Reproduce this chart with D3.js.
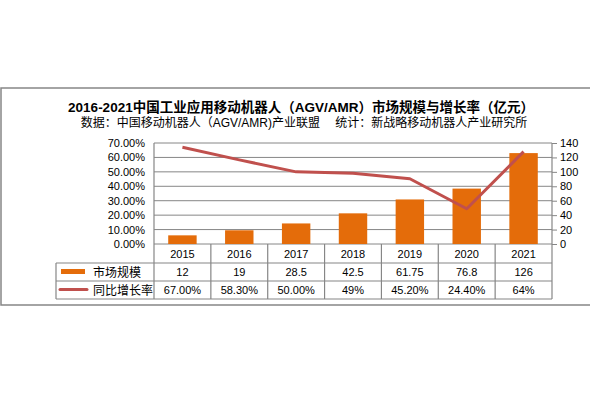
<!DOCTYPE html>
<html>
<head>
<meta charset="utf-8">
<script src="https://cdn.jsdelivr.net/npm/d3@7"></script>
<style>
  body { margin: 0; background: #fff; }
  text { font-family: Tahoma, "Liberation Sans", "Noto Sans CJK SC", sans-serif; fill: #000; }
</style>
</head>
<body>
<script>
var width = 590;
var height = 395;

// data
var years = ["2015", "2016", "2017", "2018", "2019", "2020", "2021"];
var marketSize = [12, 19, 28.5, 42.5, 61.75, 76.8, 126];
var growthRate = [67.0, 58.3, 50.0, 49, 45.2, 24.4, 64];
var sizeLabels = ["12", "19", "28.5", "42.5", "61.75", "76.8", "126"];
var rateLabels = ["67.00%", "58.30%", "50.00%", "49%", "45.20%", "24.40%", "64%"];
var leftTicks = [0, 10, 20, 30, 40, 50, 60, 70];
var rightTicks = [0, 20, 40, 60, 80, 100, 120, 140];

var title = "2016-2021中国工业应用移动机器人（AGV/AMR）市场规模与增长率（亿元）";
var subtitle = "数据：中国移动机器人（AGV/AMR)产业联盟\u3000 统计：新战略移动机器人产业研究所";

var plot = {left: 154, right: 552, top: 143, bottom: 244};
var tableLeft = 56;
var row1 = 263, row2 = 281, row3 = 299;
var gridColor = "#868686";

var svg = d3.select('body').append('svg').attr('width', width).attr('height', height);

// outer frame
svg.append("rect")
  .attr("x", 1).attr("y", 88)
  .attr("width", width + 5).attr("height", 217)
  .attr("fill", "none").attr("stroke", gridColor).attr("stroke-width", 1.5);

svg.append("text")
  .attr("x", 301).attr("y", 112)
  .attr("text-anchor", "middle")
  .style("font-size", "13.5px").style("font-weight", "bold")
  .text(title);

svg.append("text")
  .attr("x", 304).attr("y", 127)
  .attr("text-anchor", "middle")
  .style("font-size", "12px")
  .text(subtitle);

var x = d3.scaleBand().domain(years).range([plot.left, plot.right]).paddingInner(0).paddingOuter(0);
var yLeft = d3.scaleLinear().domain([0, 70]).range([plot.bottom, plot.top]);
var yRight = d3.scaleLinear().domain([0, 140]).range([plot.bottom, plot.top]);

// gridlines
svg.append("g").selectAll("line")
  .data(leftTicks)
  .enter().append("line")
  .attr("x1", plot.left).attr("x2", plot.right)
  .attr("y1", function (d) { return yLeft(d); })
  .attr("y2", function (d) { return yLeft(d); })
  .attr("stroke", gridColor).attr("stroke-width", 1);

// left axis labels
svg.append("g").selectAll("text")
  .data(leftTicks)
  .enter().append("text")
  .attr("x", 145)
  .attr("y", function (d) { return yLeft(d) + 4; })
  .attr("text-anchor", "end")
  .style("font-size", "11px")
  .text(function (d) { return d.toFixed(2) + "%"; });

// right axis
var rightAxis = d3.axisRight(yRight).tickValues(rightTicks).tickSize(5).tickPadding(3);
var ra = svg.append("g")
  .attr("transform", "translate(" + plot.right + ",0)")
  .call(rightAxis);
ra.select(".domain").remove();
ra.selectAll("line").attr("stroke", gridColor);
ra.selectAll("text").style("font-size", "11px").attr("fill", "#000")
  .style("font-family", "Tahoma, 'Liberation Sans', sans-serif");

// bars
svg.append("g").selectAll("rect")
  .data(marketSize)
  .enter().append("rect")
  .attr("x", function (d, i) { return x(years[i]) + x.bandwidth() * 0.25; })
  .attr("width", x.bandwidth() * 0.5)
  .attr("y", function (d) { return yRight(d); })
  .attr("height", function (d) { return yRight(0) - yRight(d); })
  .attr("fill", "#E46C0A");

// growth line
var line = d3.line()
  .x(function (d, i) { return x(years[i]) + x.bandwidth() / 2; })
  .y(function (d) { return yLeft(d); });
svg.append("path")
  .datum(growthRate)
  .attr("d", line)
  .attr("fill", "none")
  .attr("stroke", "#C0504D")
  .attr("stroke-width", 3)
  .attr("stroke-linejoin", "round");

// table lines
var tbl = svg.append("g").attr("stroke", gridColor).attr("stroke-width", 1.2);
[row1, row2, row3].forEach(function (yy) {
  tbl.append("line").attr("x1", tableLeft).attr("x2", plot.right).attr("y1", yy).attr("y2", yy);
});
tbl.append("line").attr("x1", tableLeft).attr("x2", tableLeft).attr("y1", row1).attr("y2", row3);
tbl.append("line").attr("x1", plot.left).attr("x2", plot.left).attr("y1", plot.top).attr("y2", row3);
tbl.append("line").attr("x1", plot.right).attr("x2", plot.right).attr("y1", plot.top).attr("y2", row3);
tbl.selectAll(".sep")
  .data(years.slice(1))
  .enter().append("line")
  .attr("x1", function (d) { return x(d); })
  .attr("x2", function (d) { return x(d); })
  .attr("y1", plot.bottom).attr("y2", row3);

// year labels
svg.append("g").selectAll("text")
  .data(years)
  .enter().append("text")
  .attr("x", function (d) { return x(d) + x.bandwidth() / 2; })
  .attr("y", 258)
  .attr("text-anchor", "middle")
  .style("font-size", "11px")
  .text(function (d) { return d; });

svg.append("g").selectAll("text")
  .data(sizeLabels)
  .enter().append("text")
  .attr("x", function (d, i) { return x(years[i]) + x.bandwidth() / 2; })
  .attr("y", 276)
  .attr("text-anchor", "middle")
  .style("font-size", "11px")
  .text(function (d) { return d; });

svg.append("g").selectAll("text")
  .data(rateLabels)
  .enter().append("text")
  .attr("x", function (d, i) { return x(years[i]) + x.bandwidth() / 2; })
  .attr("y", 294)
  .attr("text-anchor", "middle")
  .style("font-size", "11px")
  .text(function (d) { return d; });

// legend keys inside the table
svg.append("rect")
  .attr("x", 61).attr("y", 269).attr("width", 24).attr("height", 5)
  .attr("fill", "#E46C0A");
svg.append("line")
  .attr("x1", 60).attr("x2", 87).attr("y1", 289.5).attr("y2", 289.5)
  .attr("stroke", "#C0504D").attr("stroke-width", 3).attr("stroke-linecap", "round");
svg.append("text")
  .attr("x", 93).attr("y", 277)
  .style("font-size", "12px")
  .text("市场规模");
svg.append("text")
  .attr("x", 93).attr("y", 295)
  .style("font-size", "12px")
  .text("同比增长率");
</script>
</body>
</html>
